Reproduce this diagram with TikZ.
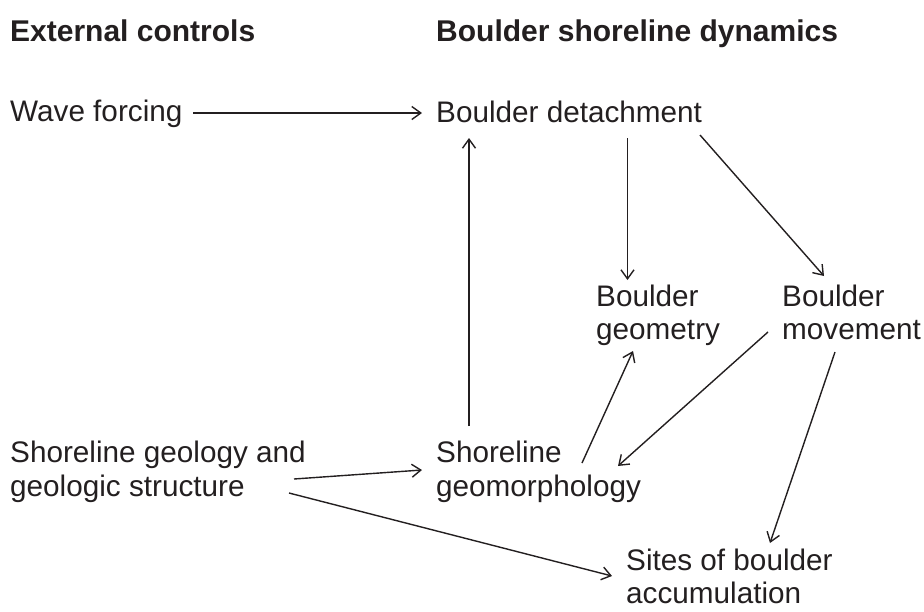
\documentclass[tikz,border=0pt]{standalone}
\usepackage{fontspec}
\setmainfont{Liberation Sans}
\usepackage{tikz}
\usetikzlibrary{arrows.meta,calc}
\definecolor{ink}{HTML}{231F20}

\begin{document}
\begin{tikzpicture}[x=1pt,y=-1pt,>={Straight Barb[length=9pt,width=13pt]},
	lbl/.style={anchor=base west,inner sep=0pt,align=left,text=ink,font=\fontsize{29.7}{33.5}\selectfont},
	hdr/.style={lbl,font=\fontsize{30}{33.5}\selectfont\bfseries},
	link/.style={->,draw=ink,line width=1.4pt}]
	\useasboundingbox (0,0) rectangle (924,611);
	% multi-line labels sit on the baseline of their last line
	\path
		(10,41)     node(ext)   [hdr] {External controls}
		(436,41)    node(dyn)   [hdr] {Boulder shoreline dynamics}
		(10,121)    node(wave)  [lbl] {Wave forcing}
		(436,122)   node(det)   [lbl] {Boulder detachment}
		(596,339.5) node(geom)  [lbl] {Boulder\\geometry}
		(782,339.5) node(move)  [lbl] {Boulder\\movement}
		(10,496)    node(geol)  [lbl] {Shoreline geology and\\geologic structure}
		(436,496)   node(morph) [lbl] {Shoreline\\geomorphology}
		(626,603.5) node(sites) [lbl] {Sites of boulder\\accumulation};

	\draw [link] ($(wave.base west)+(183,-8)$) -- ($(det.base west)+(-14,-9)$);
	\draw [link] ($(det.base west)+(191.5,16)$) -- ($(geom.base west)+(31.5,-59.5)$);
	\draw [link] ($(det.base west)+(264,13)$) -- ($(move.base west)+(42,-63.5)$);
	\draw [link] ($(morph.base west)+(33,-70)$) -- ($(det.base west)+(33,16)$);
	\draw [link] ($(morph.base west)+(146,-33)$) -- ($(geom.base west)+(37,11.5)$);
	\draw [link] ($(move.base west)+(-14,-7.5)$) -- ($(morph.base west)+(182,-30)$);
	\draw [link] ($(move.base west)+(53,12.5)$) -- ($(sites.base west)+(144,-60.5)$);
	\draw [link] ($(geol.base west)+(284,-17)$) -- ($(morph.base west)+(-14,-26)$);
	\draw [link] ($(geol.base west)+(279,-3)$) -- ($(sites.base west)+(-14,-27.5)$);
\end{tikzpicture}
\end{document}
